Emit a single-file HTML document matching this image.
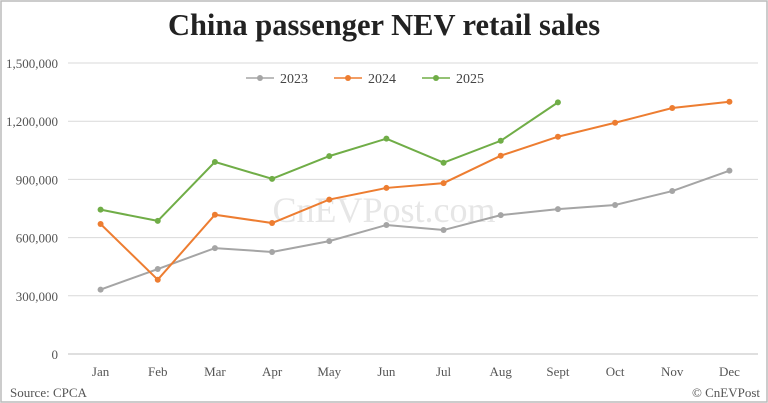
<!DOCTYPE html>
<html><head><meta charset="utf-8"><style>
body{margin:0;background:#fff;}
svg{display:block;font-family:"Liberation Serif",serif;}
</style></head><body>
<svg id="c" width="768" height="403">
<rect x="1" y="1" width="766" height="401" fill="#fff" stroke="#bbb" stroke-width="1.5"/>
<text x="384" y="35" text-anchor="middle" font-size="30.5" font-weight="bold" fill="#222">China passenger NEV retail sales</text>
<text x="384" y="222" text-anchor="middle" font-size="36" fill="#e6e6e6">CnEVPost.com</text>
<text x="10" y="397" font-size="13" fill="#555">Source: CPCA</text>
<text x="760" y="397" text-anchor="end" font-size="13" fill="#555">© CnEVPost</text>
<g id="grid"></g><g id="lines"></g>
<g font-size="14" fill="#444">
<g><line x1="246" y1="78" x2="274" y2="78" stroke="#a5a5a5" stroke-width="1.5"/><circle cx="260" cy="78" r="3" fill="#a5a5a5"/><text x="280" y="83">2023</text></g>
<g><line x1="334" y1="78" x2="362" y2="78" stroke="#ed7d31" stroke-width="1.5"/><circle cx="348" cy="78" r="3" fill="#ed7d31"/><text x="368" y="83">2024</text></g>
<g><line x1="422" y1="78" x2="450" y2="78" stroke="#70ad47" stroke-width="1.5"/><circle cx="436" cy="78" r="3" fill="#70ad47"/><text x="456" y="83">2025</text></g>
</g>
</svg>
<script>
const months=["Jan","Feb","Mar","Apr","May","Jun","Jul","Aug","Sept","Oct","Nov","Dec"];
const yTicks=[0,300000,600000,900000,1200000,1500000];
const yTickLabels=["0","300,000","600,000","900,000","1,200,000","1,500,000"];
const s2023=[332000,438000,546000,526000,582000,665000,639000,716000,747000,768000,840000,945000];
const s2024=[670000,383000,718000,675000,796000,856000,881000,1022000,1120000,1192000,1268000,1300000];
const s2025=[744000,686000,990000,903000,1020000,1110000,986000,1099000,1297000];
const NS="http://www.w3.org/2000/svg";
const x0=72,x1=758,y0=354,y1=63;
const X=i=>x0+(x1-x0)/months.length*(i+0.5);
const Y=v=>y0-(v/1500000)*(y0-y1);
function mk(t,a,p){const e=document.createElementNS(NS,t);for(const k in a)e.setAttribute(k,a[k]);p.appendChild(e);return e;}
const g=document.getElementById('grid');
yTicks.forEach((v,i)=>{
 const l=mk('line',{x1:68,x2:x1,y1:Y(v),y2:Y(v),stroke:i==0?'#bfbfbf':'#d9d9d9','stroke-width':1},g);
 
 
 const t=mk('text',{x:58,y:Y(v)+5,'text-anchor':'end','font-size':13,fill:'#555'},g);
 t.textContent=yTickLabels[i];
 
 
});
months.forEach((m,i)=>{
 const t=mk('text',{x:X(i),y:376,'text-anchor':'middle','font-size':13,fill:'#555'},g);
 t.textContent=m;
 
 
});
const lg=document.getElementById('lines');
[[s2023,'#a5a5a5','2023'],[s2024,'#ed7d31','2024'],[s2025,'#70ad47','2025']].forEach(([d,c,n])=>{
 const p=mk('polyline',{points:d.map((v,i)=>X(i)+','+Y(v)).join(' '),fill:'none',stroke:c,'stroke-width':2},lg);
 
 
 d.forEach((v,i)=>{
  const ci=mk('circle',{cx:X(i),cy:Y(v),r:3,fill:c},lg);
  
  
 });
});
</script>
</body></html>
